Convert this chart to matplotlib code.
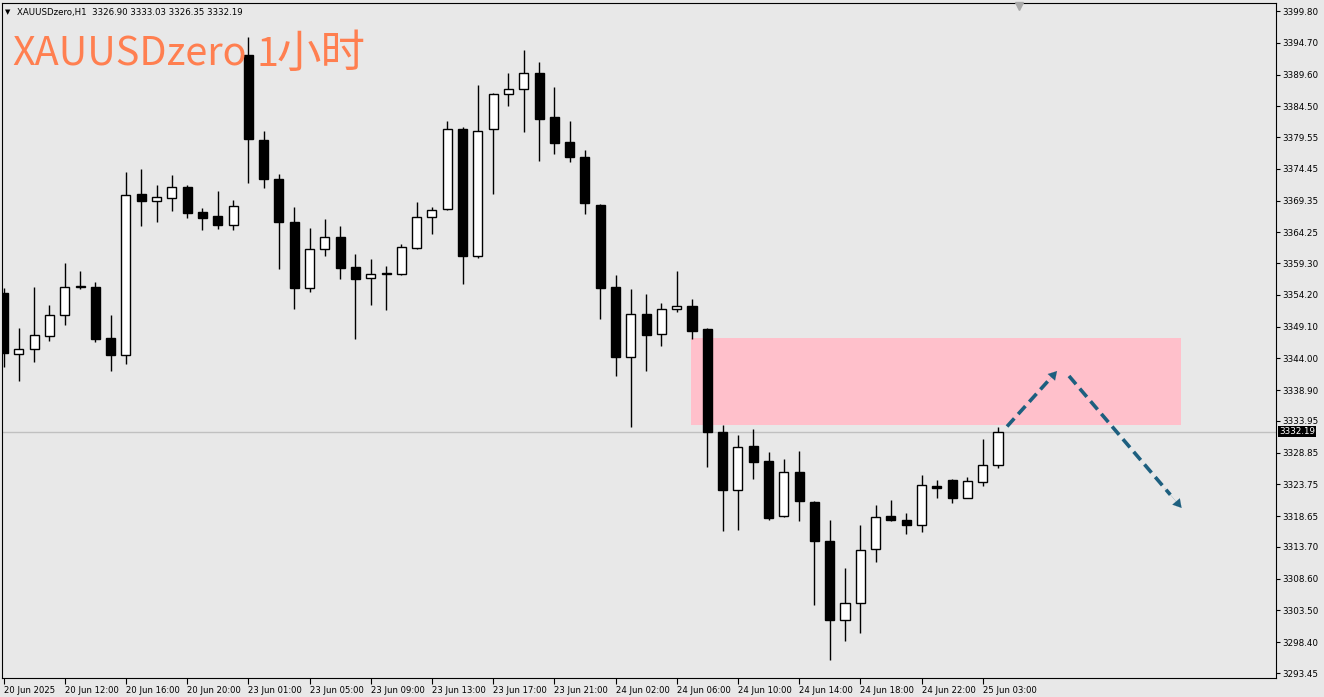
import numpy as np
import matplotlib
matplotlib.use('Agg')
import matplotlib.pyplot as plt
from matplotlib.patches import Rectangle
import matplotlib.transforms as mtransforms

# hourly candles, XAUUSDzero H1, 20 Jun 08:00 .. 25 Jun 03:00
opens = [3354.55, 3344.7, 3345.5, 3347.6, 3351.0, 3355.4, 3355.5, 3347.2, 3344.5, 3370.4,
         3369.3, 3369.8, 3371.6, 3367.5, 3366.9, 3365.5, 3392.7, 3379.1, 3372.8, 3365.9,
         3355.3, 3361.5, 3363.5, 3358.6, 3356.9, 3357.5, 3357.6, 3361.8, 3366.7, 3368.0,
         3380.8, 3360.4, 3380.8, 3386.4, 3387.2, 3389.8, 3382.7, 3378.7, 3376.4, 3368.7,
         3355.5, 3344.2, 3351.2, 3347.9, 3351.9, 3352.4, 3348.7, 3332.2, 3322.9, 3330.0,
         3327.5, 3318.6, 3325.7, 3320.9, 3314.6, 3301.9, 3304.7, 3313.3, 3318.6, 3318.0,
         3317.2, 3323.5, 3324.5, 3321.6, 3324.1, 3326.90]
highs = [3355.3, 3348.8, 3355.5, 3352.6, 3359.3, 3358.1, 3356.2, 3350.9, 3373.9, 3374.5,
         3371.8, 3373.5, 3371.9, 3368.1, 3370.9, 3369.4, 3395.6, 3380.5, 3373.6, 3368.3,
         3365.0, 3366.4, 3365.2, 3360.7, 3360.0, 3358.8, 3362.4, 3369.2, 3368.3, 3382.2,
         3381.1, 3387.9, 3386.7, 3389.9, 3393.5, 3391.6, 3387.6, 3382.2, 3377.5, 3368.8,
         3357.4, 3355.2, 3354.3, 3352.9, 3358.0, 3353.5, 3348.9, 3333.3, 3331.7, 3332.6,
         3328.9, 3327.8, 3329.1, 3321.1, 3318.0, 3310.3, 3317.2, 3320.4, 3321.3, 3319.1,
         3325.2, 3324.5, 3324.6, 3324.9, 3331.0, 3333.03]
lows = [3342.6, 3340.4, 3343.4, 3346.8, 3349.3, 3355.1, 3346.6, 3342.0, 3343.1, 3365.2,
        3365.9, 3367.7, 3366.6, 3364.6, 3364.8, 3364.6, 3372.2, 3371.3, 3358.3, 3352.0,
        3354.7, 3360.4, 3356.8, 3347.1, 3352.6, 3351.7, 3357.4, 3361.6, 3364.0, 3367.9,
        3356.0, 3360.1, 3370.4, 3384.5, 3380.4, 3375.7, 3376.9, 3375.6, 3367.2, 3350.3,
        3341.2, 3332.9, 3342.0, 3346.0, 3351.5, 3347.1, 3326.6, 3316.2, 3316.5, 3324.7,
        3318.1, 3318.5, 3317.9, 3304.4, 3295.5, 3298.6, 3299.8, 3311.3, 3317.9, 3315.8,
        3316.1, 3321.5, 3320.8, 3321.5, 3323.5, 3326.35]
closes = [3344.8, 3345.5, 3347.8, 3351.0, 3355.5, 3355.6, 3347.1, 3344.5, 3370.2, 3369.3,
          3369.9, 3371.6, 3367.4, 3366.6, 3365.5, 3368.5, 3379.2, 3372.8, 3365.9, 3355.3,
          3361.5, 3363.5, 3358.5, 3356.8, 3357.6, 3357.7, 3361.9, 3366.7, 3367.9, 3380.8,
          3360.4, 3380.6, 3386.5, 3387.2, 3389.8, 3382.4, 3378.6, 3376.4, 3369.0, 3355.3,
          3344.2, 3351.2, 3347.7, 3351.9, 3352.4, 3348.4, 3332.1, 3322.9, 3329.8, 3327.3,
          3318.4, 3325.7, 3321.1, 3314.7, 3302.0, 3304.7, 3313.2, 3318.5, 3318.0, 3317.3,
          3323.6, 3323.1, 3321.5, 3324.3, 3326.9, 3332.19]

time_labels = ['20 Jun 2025', '20 Jun 12:00', '20 Jun 16:00', '20 Jun 20:00', '23 Jun 01:00',
               '23 Jun 05:00', '23 Jun 09:00', '23 Jun 13:00', '23 Jun 17:00', '23 Jun 21:00',
               '24 Jun 02:00', '24 Jun 06:00', '24 Jun 10:00', '24 Jun 14:00', '24 Jun 18:00',
               '24 Jun 22:00', '25 Jun 03:00']
price_ticks = [3399.80, 3394.70, 3389.60, 3384.50, 3379.55, 3374.45, 3369.35, 3364.25,
               3359.30, 3354.20, 3349.10, 3344.00, 3338.90, 3333.95, 3328.85, 3323.75,
               3318.65, 3313.70, 3308.60, 3303.50, 3298.40, 3293.45]
last_price = 3332.19

# resistance zone and projected path (bar index, price)
zone_x = [44.93, 76.96]
zone_y = [3333.3, 3347.22]
path_up = [(65.59, 3333.06), (68.86, 3341.97)]
path_down = [(69.64, 3341.17), (77.0, 3319.97)]

bg = '#e8e8e8'
fig = plt.figure(figsize=(13.24, 6.97), dpi=100, facecolor=bg)
ax = fig.add_axes([2 / 1324, 19 / 697, 1274 / 1324, 675 / 697])
ax.set_facecolor(bg)

n = len(opens)
idx = np.arange(n)
w = 0.59
for i in idx:
    o, h, l, c = opens[i], highs[i], lows[i], closes[i]
    ax.vlines(i, l, h, color='black', lw=1.0, zorder=2)
    face = 'white' if c >= o else 'black'
    body = max(abs(c - o), 0.05)
    ax.add_patch(Rectangle((i - w / 2, min(o, c)), w, body, facecolor=face,
                           edgecolor='black', lw=1.0, zorder=3))

ax.add_patch(Rectangle((zone_x[0], zone_y[0]), zone_x[1] - zone_x[0], zone_y[1] - zone_y[0],
                       facecolor='#ffc0cb', edgecolor='none', zorder=1))

ax.axhline(last_price, color='#c0c0c0', lw=1, zorder=0.5)

arrow_col = '#1d5f7f'
for seg in (path_up, path_down):
    (x0, y0), (x1, y1) = seg
    ax.plot([x0, x0 + (x1 - x0) * 0.9], [y0, y0 + (y1 - y0) * 0.9], color=arrow_col,
            lw=2.6, ls=(0, (3, 1.6)), zorder=4, solid_capstyle='butt', dash_capstyle='butt')
    ax.annotate('', xy=(x1, y1), xytext=(x0 + (x1 - x0) * 0.85, y0 + (y1 - y0) * 0.85),
                arrowprops=dict(arrowstyle='-|>,head_length=0.6,head_width=0.35',
                                color=arrow_col, lw=0.1, shrinkA=0, shrinkB=0), zorder=5)

ax.set_xlim(-0.1, 83.17)
ax.set_ylim(3292.65, 3401.09)

ax.yaxis.tick_right()
ax.set_yticks(price_ticks)
ax.set_yticklabels(['%.2f' % p for p in price_ticks])
ax.tick_params(axis='y', direction='out', length=3, width=0.8, pad=1.5, labelsize=6.3)
ax.set_xticks(np.arange(0, n, 4))
ax.set_xticklabels(time_labels)
ax.tick_params(axis='x', direction='out', length=4, width=0.8, pad=1.5, labelsize=6.1)
for lab in ax.get_xticklabels():
    lab.set_horizontalalignment('left')
for s in ax.spines.values():
    s.set_color('black')
    s.set_linewidth(0.8)

trans = mtransforms.blended_transform_factory(ax.transAxes, ax.transData)
ax.text(1.0025, last_price, '%.2f' % last_price, transform=trans, ha='left', va='center',
        fontsize=6.3, color='white',
        bbox=dict(boxstyle='square,pad=0.12', facecolor='black', edgecolor='none'))

# shift marker at the top
ax.plot([66.4], [3400.6], marker='v', color='#a8a8a8', ms=6, clip_on=False, zorder=6)

fig.text(5 / 1324, 1 - 12 / 697, '\u25bc', fontsize=5, va='center', ha='left')
fig.text(17 / 1324, 1 - 12 / 697, 'XAUUSDzero,H1  3326.90 3333.03 3326.35 3332.19',
         fontsize=6.2, va='center', ha='left')
title_font = ['Noto Sans CJK SC', 'DejaVu Sans']
fig.text(12 / 1324, 1 - 66 / 697, 'XAUUSDzero', fontsize=28.5, color='#ff7f50',
         va='baseline', ha='left', family=title_font)
fig.text(256 / 1324, 1 - 66 / 697, '1', fontsize=28.5, color='#ff7f50',
         va='baseline', ha='left', family=title_font)
fig.text(277 / 1324, 1 - 67 / 697, '小时', fontsize=32, color='#ff7f50',
         va='baseline', ha='left', family=title_font, fontweight='light')

fig.savefig('out.png', dpi=100, facecolor=bg)
